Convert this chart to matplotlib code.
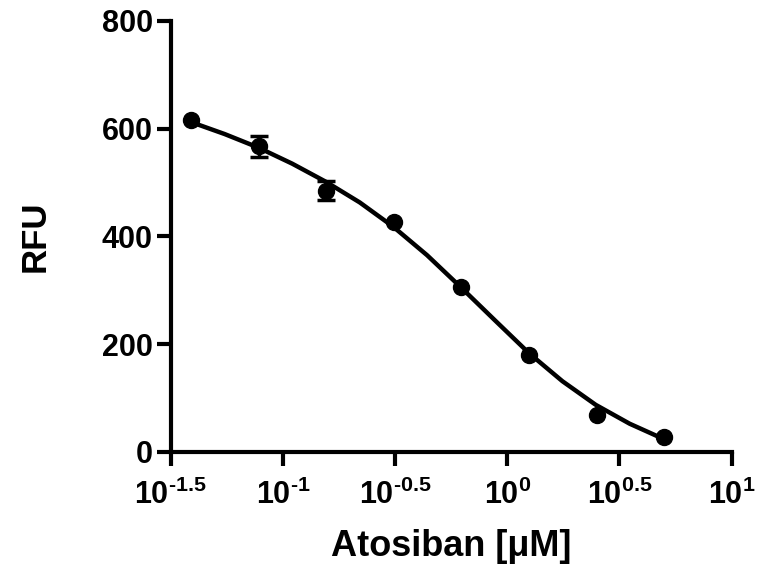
import numpy as np
import matplotlib.pyplot as plt

plt.rcParams['font.family'] = 'Liberation Sans'
plt.rcParams['font.weight'] = 'bold'
plt.rcParams['mathtext.fontset'] = 'custom'
plt.rcParams['mathtext.rm'] = 'Liberation Sans:bold'
plt.rcParams['mathtext.it'] = 'Liberation Sans:bold'
plt.rcParams['mathtext.bf'] = 'Liberation Sans:bold'

# measured points (2-fold dilution series)
conc = [0.039, 0.078, 0.156, 0.3125, 0.625, 1.25, 2.5, 5.0]
rfu = [616, 567, 485, 426, 306, 180, 68, 28]
rfu_err = [0, 19, 17, 0, 0, 0, 0, 0]

# fitted curve
fit_conc = [0.0391, 0.0550, 0.0776, 0.110, 0.156, 0.220, 0.310, 0.439,
            0.619, 0.881, 1.25, 1.76, 2.48, 3.51, 4.95]
fit_rfu = [612, 590, 565, 535, 501, 463, 418, 365,
           306, 244, 183, 131, 87, 52, 24]

xticks = [10**-1.5, 10**-1, 10**-0.5, 10**0, 10**0.5, 10**1]
xtick_labels = [r'$10^{\text{-}1.5}$', r'$10^{\text{-}1}$', r'$10^{\text{-}0.5}$',
                '$10^{0}$', '$10^{0.5}$', '$10^{1}$']
yticks = [0, 200, 400, 600, 800]

fig = plt.figure(figsize=(7.58, 5.70), dpi=100)
ax = fig.add_axes([0.2252, 0.2075, 0.7401, 0.7557])

ax.plot(fit_conc, fit_rfu, color='black', lw=3.2, zorder=2,
        solid_joinstyle='round')
ax.plot(conc, rfu, 'o', color='black', ms=11.5, zorder=3)
with_err = [i for i, e in enumerate(rfu_err) if e > 0]
ax.errorbar([conc[i] for i in with_err], [rfu[i] for i in with_err],
            yerr=[rfu_err[i] for i in with_err], fmt='none', ecolor='black',
            capsize=6.5, capthick=2.5, elinewidth=2.5, zorder=3)

ax.set_xscale('log')
ax.set_xlim(10**-1.5, 10)
ax.set_ylim(0, 800)
ax.set_xticks(xticks)
ax.set_xticklabels(xtick_labels)
ax.set_yticks(yticks)
ax.minorticks_off()

for s in ['top', 'right']:
    ax.spines[s].set_visible(False)
for s in ['left', 'bottom']:
    ax.spines[s].set_linewidth(3)
ax.tick_params(width=3, length=10, labelsize=22, pad=3)
ax.tick_params(axis='x', pad=10)

ax.set_xlabel('Atosiban [μM]', fontsize=26, fontweight='bold', labelpad=13)
ax.set_ylabel('RFU', fontsize=25, fontweight='bold', labelpad=36)

fig.savefig('out.png', dpi=100)
